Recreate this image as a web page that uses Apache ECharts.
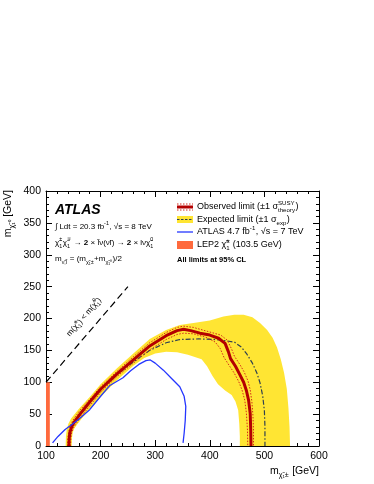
<!DOCTYPE html>
<html>
<head>
<meta charset="utf-8">
<script src="https://cdn.jsdelivr.net/npm/echarts@6/dist/echarts.min.js"></script>
<style>
  html, body { margin: 0; padding: 0; background: #fff; }
  #chart { width: 374px; height: 484px; }
</style>
</head>
<body>
<div id="chart"></div>
<script>
// axis ranges [min, max, step]
var xRange = [100, 600, 100];
var yRange = [0, 400, 50];

// observed limit
var observed = [[142,0],[142.5,12],[144,22],[147,30],[152,38],[165,53],[180,69],[200,89],[230,113],[260,135],
  [290,157],[320,173],[340,181],[352,183],[365,181],[382,177],[400,174],[416,169],[428,161],[434,148],[438,137],
  [447,125],[455,112],[462,100],[467,87],[471,72],[474,51],[475,25],[475.5,0]];
// observed +-1 sigma theory
var theoryUp = [[139.5,0],[140,12],[141.5,22],[144,31],[149,40],[163,57],[180,73],[200,93],[230,117],[260,140],
  [290,162],[320,178],[340,186],[352,188],[370,186],[395,180],[420,174],[432,166],[440,152],[445,141],[455,128],
  [463,116],[470,102],[474,88],[477,70],[479,48],[480,25],[480,0]];
var theoryDown = [[145,0],[145.5,12],[147,21],[150,28],[155,35],[168,50],[182,65],[200,84],[230,109],[260,130],
  [290,151],[320,167],[340,175],[352,177],[370,176],[395,170],[410,163],[419,153],[426,139],[435,127],[445,114],
  [453,101],[459,88],[464,72],[467,52],[469,25],[469.5,0]];
// expected limit and +-1 sigma band
var expected = [[141,0],[141.5,12],[143,22],[146,30],[151,38],[165,53],[180,69],[200,89],[230,112],[260,132],
  [290,150],[320,162],[345,167],[380,168],[410,167],[430,165],[445,163],[458,155],[468,144],[478,130],[486,115],
  [492,99],[497,78],[500,55],[501,30],[501,0]];
var bandOuter = [[136,0],[136.5,15],[138,26],[141,35],[146,43],[160,58],[180,77],[200,97],[230,122],[260,145],
  [290,168],[320,182],[345,190],[370,193],[400,197],[425,203],[445,206],[462,206],[478,202],[492,193],[505,182],
  [515,170],[523,155],[530,136],[536,115],[541,90],[544,60],[546,30],[547,0]];
var bandInner = [[147,0],[147.5,12],[149,21],[152,28],[158,35],[170,48],[185,62],[200,77],[230,103],[260,126],
  [280,138],[300,145],[320,148],[340,147],[360,143],[385,136],[395,125],[405,110],[415,97],[428,87],[440,80],
  [447,70],[452,56],[454,35],[455,15],[455,0]];
// ATLAS 4.7 fb-1, 7 TeV
var atlas7 = [[112,5],[122,15],[135,26],[148,34],[160,42],[180,57],[200,78],[217,95],[241,107],[255,118],
  [270,128],[283,134],[291,135],[300,130],[315,119],[330,106],[345,93],[353,78],[356,62],[355,40],[353,20],[351,5]];
// kinematic line and LEP2 limit
var diagonal = [[100,100],[250,250]];
var lep2Box = [[100,0],[107,100]];

var FONT = '"Liberation Sans", Arial, Helvetica, sans-serif';
var chart = echarts.init(document.getElementById('chart'));
var ctx = document.createElement('canvas').getContext('2d');

function textW(t, size, weight, style) {
  ctx.font = (style || 'normal') + ' ' + (weight || 'normal') + ' ' + size + 'px ' + FONT;
  return ctx.measureText(t).width;
}

function txt(t, x, y, size, weight, style) {
  return {
    type: 'text', x: x, y: y, silent: true,
    style: {text: t, fontSize: size, fontFamily: FONT, fontWeight: weight || 'normal',
      fontStyle: style || 'normal', fill: '#000', align: 'left', verticalAlign: 'middle'}
  };
}

// lay out a line of text with sup/sub pieces, starting at x=0
function line(parts, size) {
  var x = 0, els = [], small = Math.round(size * 0.68 * 10) / 10;
  parts.forEach(function(p) {
    if(typeof p === 'string') p = {t: p};
    if(p.t !== undefined) {
      els.push(txt(p.t, x, 0, size, p.bold ? 'bold' : 'normal'));
      x += textW(p.t, size, p.bold ? 'bold' : 'normal');
      return;
    }
    var w = 0;
    if(p.sup) {
      els.push(txt(p.sup, x, -size * 0.4, small));
      w = Math.max(w, textW(p.sup, small));
    }
    if(p.sub) {
      els.push(txt(p.sub, x, size * 0.38, small));
      w = Math.max(w, textW(p.sub, small));
    }
    x += w + 0.5;
  });
  return {els: els, width: x};
}

function group(parts, size, x, y, rot, anchor) {
  var l = line(parts, size);
  var off = anchor === 'end' ? -l.width : anchor === 'center' ? -l.width / 2 : 0;
  l.els.forEach(function(e) { e.x += off; });
  return {type: 'group', x: x, y: y, rotation: rot || 0, children: l.els};
}

var CHI = 'χ\u0303';
var graphics = [
  txt('ATLAS', 55, 210, 14, 'bold', 'italic'),
  group(['\u222B Ldt = 20.3 fb', {sup: '-1'}, ', \u221As = 8 TeV'], 8, 55, 227),
  group([CHI, {sup: '\u00B1', sub: '1'}, CHI, {sup: '\u2213', sub: '1'}, ' \u2192 ', {t: '2', bold: true},
    ' \u00D7 l\u0303\u03BD(\u03BD\u0303l) \u2192 ', {t: '2', bold: true}, ' \u00D7 l\u03BD' + CHI, {sup: '0', sub: '1'}], 8, 55, 243),
  group(['m', {sub: '\u03BD\u0303,l\u0303'}, ' = (m', {sub: CHI + '\u2081\u00B1'}, '+m', {sub: CHI + '\u2081\u2070'}, ')/2'], 8, 55, 259),
  group(['Observed limit (\u00B11 \u03C3', {sup: 'SUSY', sub: 'theory'}, ')'], 9, 197, 207),
  group(['Expected limit (\u00B11 \u03C3', {sub: 'exp'}, ')'], 9, 197, 219.5),
  group(['ATLAS 4.7 fb', {sup: '-1'}, ', \u221As = 7 TeV'], 9, 197, 232),
  group(['LEP2 ' + CHI, {sup: '\u00B1', sub: '1'}, ' (103.5 GeV)'], 9, 197, 245),
  txt('All limits at 95% CL', 177, 260, 7.5, 'bold'),
  group(['m(' + CHI, {sup: '\u00B1', sub: '1'}, ') < m(' + CHI, {sup: '0', sub: '1'}, ')'], 8, 84, 317, 49 * Math.PI / 180, 'center'),
  group(['m', {sub: CHI + '\u2081\u00B1'}, ' [GeV]'], 10.5, 319, 471, 0, 'end'),
  group(['m', {sub: CHI + '\u2081\u2070'}, ' [GeV]'], 10.5, 8, 190, Math.PI / 2, 'end'),
  // legend symbols
  {type: 'line', silent: true, shape: {x1: 177, y1: 204, x2: 193, y2: 204}, style: {stroke: '#d42a1a', lineWidth: 1, lineDash: [1.5, 1.5]}},
  {type: 'line', silent: true, shape: {x1: 177, y1: 210, x2: 193, y2: 210}, style: {stroke: '#d42a1a', lineWidth: 1, lineDash: [1.5, 1.5]}},
  {type: 'line', silent: true, shape: {x1: 177, y1: 207, x2: 193, y2: 207}, style: {stroke: '#b40000', lineWidth: 3}},
  {type: 'rect', silent: true, shape: {x: 177, y: 216, width: 16, height: 7}, style: {fill: '#ffe533'}},
  {type: 'line', silent: true, shape: {x1: 177, y1: 219.5, x2: 193, y2: 219.5}, style: {stroke: '#2f4050', lineWidth: 1.2, lineDash: [2.5, 1.5]}},
  {type: 'line', silent: true, shape: {x1: 177, y1: 232, x2: 193, y2: 232}, style: {stroke: '#2536ff', lineWidth: 1.3}},
  {type: 'rect', silent: true, shape: {x: 177, y: 241, width: 16, height: 8}, style: {fill: '#ff6a3d'}}
];

function axisCommon(range, pos, showLabel) {
  return {
    type: 'value', position: pos, min: range[0], max: range[1], interval: range[2],
    axisLine: {show: true, onZero: false, lineStyle: {color: '#000', width: 1}},
    axisTick: {show: true, inside: true, length: 6, lineStyle: {color: '#000', width: 1}},
    minorTick: {show: true, splitNumber: 5, length: 3, lineStyle: {color: '#000', width: 1}},
    splitLine: {show: false},
    axisLabel: {show: showLabel, color: '#000', fontSize: 10.5, fontFamily: FONT, margin: 5}
  };
}

function lineSeries(data, color, width, type, z) {
  return {
    type: 'line', data: data, symbol: 'none', showSymbol: false, silent: true, z: z,
    lineStyle: {color: color, width: width, type: type}
  };
}

var option = {
  animation: false,
  grid: {left: 46, right: 55, top: 191, bottom: 38},
  xAxis: [axisCommon(xRange, 'bottom', true), axisCommon(xRange, 'top', false)],
  yAxis: [axisCommon(yRange, 'left', true), axisCommon(yRange, 'right', false)],
  graphic: graphics,
  series: [
    {
      type: 'custom', silent: true, z: 1, data: [[100, 0]],
      renderItem: function(params, api) {
        var pts = bandOuter.concat(bandInner.slice().reverse()).map(function(p) { return api.coord(p); });
        return {type: 'polygon', shape: {points: pts}, style: {fill: '#ffe533'}};
      }
    },
    lineSeries(expected, '#2f4050', 1.2, [5, 2, 1.5, 2], 2),
    lineSeries(theoryUp, '#d42a1a', 1, [1.5, 1.5], 3),
    lineSeries(theoryDown, '#d42a1a', 1, [1.5, 1.5], 3),
    lineSeries(observed, '#b40000', 3, 'solid', 4),
    lineSeries(atlas7, '#2536ff', 1.3, 'solid', 4),
    lineSeries(diagonal, '#000', 1.2, [7, 4], 4),
    {
      type: 'custom', silent: true, z: 1, data: [[100, 0]],
      renderItem: function(params, api) {
        var a = api.coord(lep2Box[0]), b = api.coord(lep2Box[1]);
        return {type: 'rect', shape: {x: a[0], y: b[1], width: b[0] - a[0], height: a[1] - b[1]},
          style: {fill: '#ff6a3d'}};
      }
    }
  ]
};

chart.setOption(option);
</script>
</body>
</html>
